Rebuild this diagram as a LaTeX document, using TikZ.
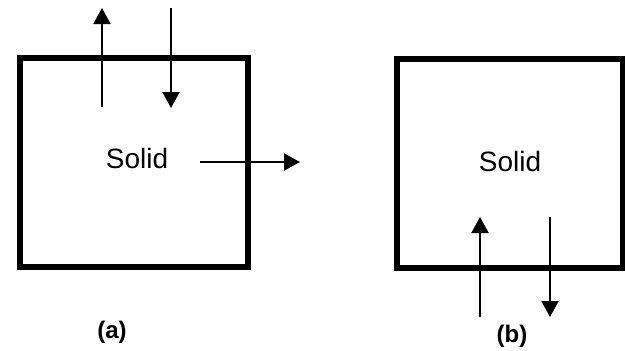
\documentclass[tikz,border=0pt]{standalone}
\usepackage{fontspec}
\setmainfont{Liberation Sans}
\usetikzlibrary{arrows.meta}
\tikzset{
    flux/.style={-{Triangle[width=8.5pt,length=8pt]}, line width=1pt},
    wall/.style={line width=3pt},
    label/.style={font=\fontsize{14}{16}\selectfont},
    caption/.style={font=\bfseries\fontsize{12}{14}\selectfont}
}
\begin{document}
\begin{tikzpicture}[x=0.5pt,y=0.5pt]
    \useasboundingbox (0,0) rectangle (625,350);
    % (a)
    \draw[wall] (20,83) rectangle (248,292);
    \node[label] (solidA) at (137,192) {Solid};
    \coordinate (upAs) at (102,243);
    \coordinate (upAe) at (102,342);
    \coordinate (dnAs) at (171,342);
    \coordinate (dnAe) at (171,242);
    \coordinate (rtAs) at (200,188);
    \coordinate (rtAe) at (300,188);
    \draw[flux] (upAs)--(upAe);
    \draw[flux] (dnAs)--(dnAe);
    \draw[flux] (rtAs)--(rtAe);
    \node[caption] (capA) at (112,18) {(a)};
    % (b)
    \draw[wall] (397,82) rectangle (623,291);
    \node[label] (solidB) at (510,189) {Solid};
    \coordinate (upBs) at (480,33);
    \coordinate (upBe) at (480,133);
    \coordinate (dnBs) at (550,133);
    \coordinate (dnBe) at (550,33);
    \draw[flux] (upBs)--(upBe);
    \draw[flux] (dnBs)--(dnBe);
    \node[caption] (capB) at (512,14) {(b)};
\end{tikzpicture}
\end{document}
